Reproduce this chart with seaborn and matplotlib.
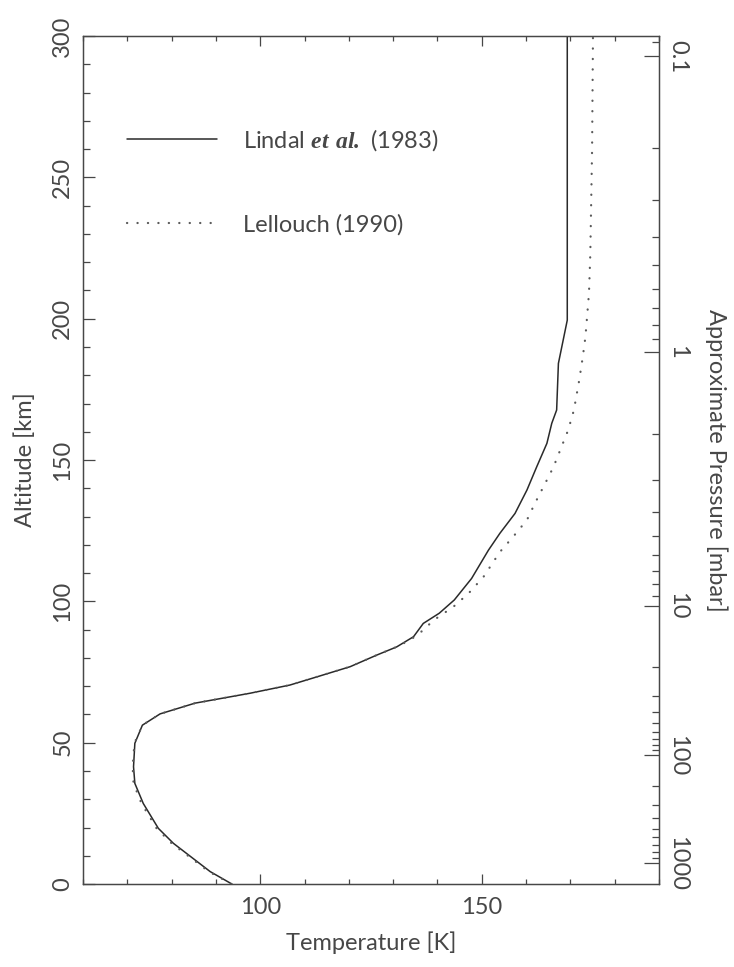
import numpy as np
import matplotlib
matplotlib.use("Agg")
import matplotlib.pyplot as plt
import seaborn as sns
from matplotlib.ticker import MultipleLocator

# Titan temperature profiles: altitude [km] and temperature [K]
lindal_alt = [0, 4.4, 14.4, 19.7, 28.5, 35.6, 41.5, 49.8, 56.2, 60.2, 64.0, 67.5,
              70.4, 73.3, 76.9, 81.0, 83.9, 87.5, 92.2, 95.8, 100.5, 108.1, 118.1,
              124.1, 131.1, 139.4, 147.6, 155.9, 163.0, 167.7, 184.2, 199.5, 300.0]
lindal_temp = [93.6, 88.7, 80.4, 77.0, 73.6, 71.7, 71.4, 71.7, 73.4, 77.4, 85.3, 97.7,
               106.7, 112.8, 120.3, 126.3, 130.8, 134.6, 136.8, 140.4, 143.8, 147.7, 151.5,
               154.1, 157.5, 160.2, 162.4, 164.7, 165.8, 166.9, 167.3, 169.3, 169.3]

lellouch_alt = [0, 4.4, 14.4, 19.7, 28.5, 35.6, 41.5, 49.8, 56.2, 60.2, 64.0, 67.5,
                70.4, 73.3, 76.9, 81.0, 83.9, 86.5, 89.2, 93.4, 98.1, 102.8, 108.7,
                117.5, 122.9, 128.8, 134.7, 141.7, 147.6, 154.7, 160.6, 167.7, 178.3,
                186.5, 193.6, 209.0, 223.0, 260.0, 300.0]
lellouch_temp = [93.5, 88.4, 80.0, 76.6, 73.2, 71.4, 71.2, 71.6, 73.4, 77.4, 85.3, 97.7,
                 106.7, 112.8, 120.3, 126.3, 130.8, 134.0, 136.3, 139.2, 143.6, 147.0, 150.4,
                 154.1, 157.1, 160.2, 162.0, 164.3, 166.2, 168.0, 169.5, 170.8, 172.0,
                 172.8, 173.4, 174.2, 174.5, 174.9, 175.1]

series_labels = [r"Lindal $\mathbfit{et\ al.}$ (1983)", "Lellouch (1990)"]

# Pressure scale on the right: labelled levels [mbar] and their altitudes [km]
pressure_levels = [0.1, 1, 10, 100, 1000]
pressure_level_alt = [292.9, 188.1, 98.4, 45.6, 7.4]
pressure_tick_labels = ["0.1", "1", "10", "100", "1000"]

INK = "#474747"
FS = 17

sns.set_theme(style="ticks")
plt.rcParams.update({
    "font.family": ["Lato", "DejaVu Sans"],
    "font.weight": "normal",
    "font.size": FS,
    "text.color": INK,
    "axes.labelcolor": INK,
    "xtick.color": INK,
    "ytick.color": INK,
    "xtick.labelcolor": INK,
    "ytick.labelcolor": INK,
    "axes.edgecolor": INK,
    "axes.linewidth": 0.9,
    "mathtext.fontset": "custom",
    "mathtext.bfit": "Liberation Serif:italic:bold",
    "mathtext.rm": "Lato",
})


def hydrostatic_altitude(pressures):
    """Altitude of given pressures from hydrostatic balance on the Lindal profile."""
    z = np.linspace(0.0, 340.0, 3401)
    temp = np.interp(z, lindal_alt, lindal_temp)
    g = 1.354 * (2575.0 / (2575.0 + z)) ** 2
    inv_h = 0.028 * g / (8.314 * temp) * 1000.0      # 1 / scale height, per km
    depth = np.concatenate([[0.0], np.cumsum(0.5 * (inv_h[1:] + inv_h[:-1]) * np.diff(z))])
    lnp = np.log(1496.0) - depth
    return np.interp(-np.log(np.asarray(pressures, float)), -lnp, z)


def pressure_to_alt(pressures):
    """Hydrostatic shape, pinned to the labelled pressure levels."""
    zh_lev = hydrostatic_altitude(pressure_levels)
    order = np.argsort(zh_lev)
    xp = np.concatenate([[0.0], zh_lev[order], [400.0]])
    fp_lev = np.asarray(pressure_level_alt)[order]
    fp = np.concatenate([[0.0], fp_lev, [fp_lev[-1] + 400.0 - zh_lev[order][-1]]])
    return np.interp(hydrostatic_altitude(pressures), xp, fp)


fig = plt.figure(figsize=(7.34, 9.67), dpi=100)
ax = fig.add_axes([0.1131, 0.0858, 0.7847, 0.8769])

sns.lineplot(x=lindal_temp, y=lindal_alt, sort=False, estimator=None, ax=ax,
             color="#2a2a2a", lw=1.1, label=series_labels[0])
sns.lineplot(x=lellouch_temp, y=lellouch_alt, sort=False, estimator=None, ax=ax,
             color="#5a5a5a", lw=1.6, label=series_labels[1])
dotted = ax.get_lines()[1]
dotted.set_linestyle((0, (0.1, 4.6)))
dotted.set_dash_capstyle("round")

ax.set_xlim(60, 190)
ax.set_ylim(0, 300)
ax.xaxis.set_major_locator(MultipleLocator(50))
ax.xaxis.set_minor_locator(MultipleLocator(10))
ax.yaxis.set_major_locator(MultipleLocator(50))
ax.yaxis.set_minor_locator(MultipleLocator(10))

ax.tick_params(axis="x", which="both", direction="in", top=True, bottom=True,
               width=0.9, pad=9, labelsize=FS, labelcolor=INK)
ax.tick_params(axis="x", which="major", length=7.2)
ax.tick_params(axis="x", which="minor", length=3.8)
ax.tick_params(axis="y", which="both", direction="in", left=True, right=False,
               width=0.9, pad=7, labelsize=FS, labelrotation=90, labelcolor=INK)
ax.tick_params(axis="y", which="major", length=8.9)
ax.tick_params(axis="y", which="minor", length=5.2)
for lab in ax.get_yticklabels():
    lab.set_va("center")

ax.set_xlabel("Temperature [K]", fontsize=FS, color=INK, labelpad=10)
ax.set_ylabel("Altitude [km]", fontsize=FS, color=INK, labelpad=12)

# Right-hand pressure axis
ax2 = ax.twinx()
ax2.set_ylim(0, 300)
major_z = pressure_to_alt(pressure_levels)
minor_p = np.array([m * 10.0 ** e for e in range(-2, 4) for m in range(2, 10)])
minor_z = pressure_to_alt(minor_p)
minor_z = minor_z[(minor_z > 0.5) & (minor_z < 299.9)]
ax2.set_yticks(major_z)
ax2.set_yticklabels(pressure_tick_labels)
ax2.set_yticks(minor_z, minor=True)
ax2.tick_params(axis="y", which="both", direction="in", width=0.9, pad=6,
                labelsize=FS, labelrotation=-90, labelcolor=INK)
ax2.tick_params(axis="y", which="major", length=11)
ax2.tick_params(axis="y", which="minor", length=4.7)
for lab in ax2.get_yticklabels():
    lab.set_va("center")
ax2.set_ylabel("Approximate Pressure [mbar]", rotation=-90, va="bottom",
               fontsize=FS, color=INK, labelpad=12)

for a in (ax, ax2):
    for s in a.spines.values():
        s.set_color(INK)
        s.set_linewidth(0.9)

handles = ax.get_lines()[:2]
leg = ax.legend(handles, series_labels, loc="upper left", bbox_to_anchor=(0.0764, 0.893),
                frameon=False, fontsize=FS, handlelength=3.8, handletextpad=1.1,
                labelspacing=2.6, borderpad=0, borderaxespad=0)
for t in leg.get_texts():
    t.set_color(INK)

fig.savefig("out.png", dpi=100, facecolor="white")
